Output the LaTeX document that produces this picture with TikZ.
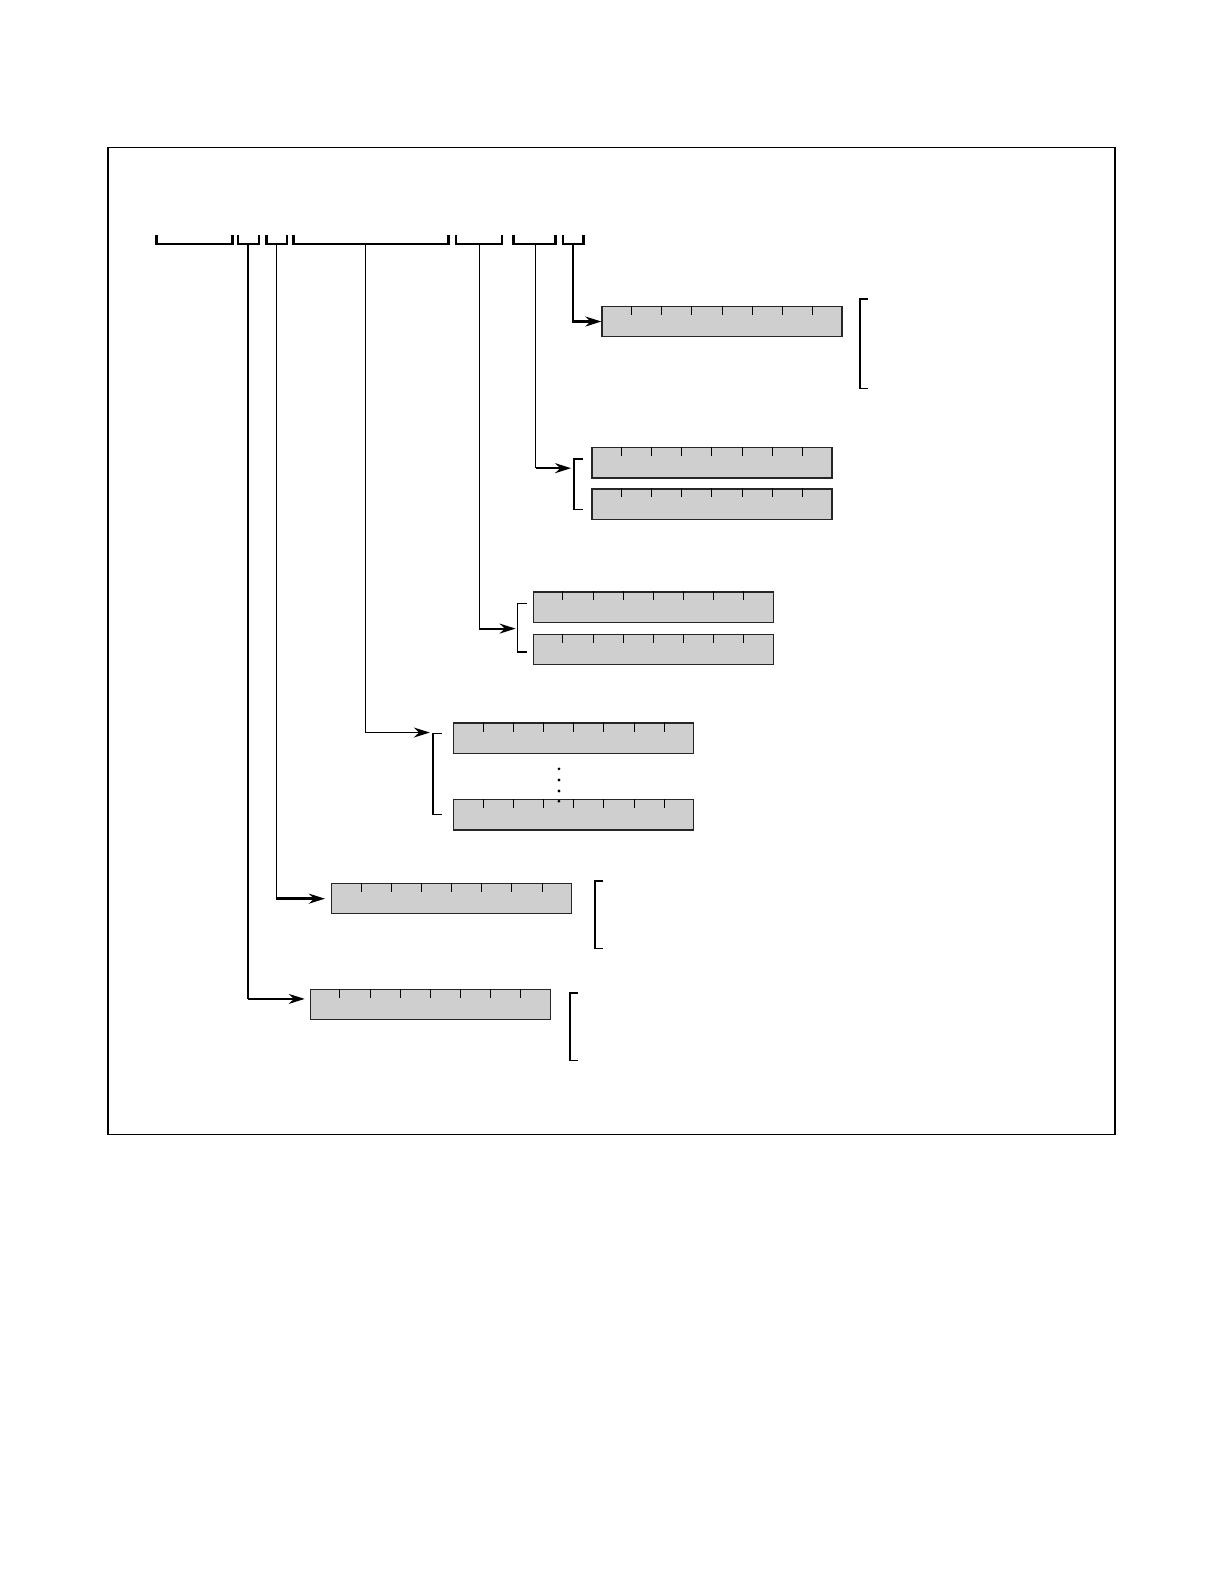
\documentclass[tikz,border=0pt]{standalone}
\usetikzlibrary{arrows.meta,calc}

\begin{document}
\begin{tikzpicture}
[
    x=1.009bp, y=-1.009bp,
    frame/.style={draw=black, line width=1.2pt},
    regbox/.style={draw=black!85, line width=1.3pt, fill=black!19,
        minimum width=240bp, minimum height=30.3bp, inner sep=0pt, anchor=north west},
    tickmark/.style={line width=1pt},
    field/.style={minimum height=9bp, inner sep=0pt, anchor=south west},
    fieldline/.style={line width=2.4pt},
    link/.style={line width=1.4pt, -{Stealth[length=16bp,width=10bp]}},
    biglink/.style={line width=2.4pt, -{Stealth[length=16bp,width=10bp]}},
    brace/.style={line width=1.4pt},
]
\useasboundingbox (0,0) rectangle (1213.1,1567.9);
\draw[frame] (107,146) rectangle (1105,1124);

% fields along the top
\node [field, minimum width=75.7bp] (f1) at (155,242) {};
\node [field, minimum width=20.2bp] (f2) at (236,242) {};
\node [field, minimum width=20.2bp] (f3) at (264,242) {};
\node [field, minimum width=154.4bp] (f4) at (291,242) {};
\node [field, minimum width=45.4bp] (f5) at (452,242) {};
\node [field, minimum width=41.4bp] (f6) at (509,242) {};
\node [field, minimum width=20.2bp] (f7) at (558,242) {};
\foreach \f in {f1,f2,f3,f4,f5,f6,f7}
    \draw [fieldline] (\f.north west) |- (\f.south east) -- (\f.north east);

\coordinate (s2) at (246,242);
\coordinate (s3) at (274,242);
\coordinate (s4) at (362,242);
\coordinate (s5) at (475,242);
\coordinate (s6) at (531,242);
\coordinate (s7) at (568,242);

% registers
\node [regbox] (r7) at (596,303) {};
\node [regbox] (r6a) at (586,443) {};
\node [regbox] (r6b) at (586,484) {};
\node [regbox] (r5a) at (528,586) {};
\node [regbox] (r5b) at (528,628) {};
\node [regbox] (r4a) at (449,716) {};
\node [regbox] (r4b) at (449,792) {};
\node [regbox] (r3) at (328,875) {};
\node [regbox] (r2) at (307,980) {};
\foreach \b in {r7,r6a,r6b,r5a,r5b,r4a,r4b,r3,r2}
    \foreach \i in {1,...,7}
        \draw [tickmark] ($(\b.north west)!\i/8!(\b.north east)$) -- ++(0,9);

% dots between the two r4 registers
\foreach \y in {762,773,784,794}
    \fill (554,\y) circle (1.6bp);

% connectors
\draw [biglink] (s7) |- (r7.west);
\draw [line width=1.4pt] (s6) -- (s6 |- 0,464);
\draw [biglink] (s6 |- 0,464) -- (566,464);
\draw [line width=1.4pt] (s5) -- (s5 |- 0,623);
\draw [line width=1.9pt, -{Stealth[length=16bp,width=10bp]}] (s5 |- 0,623) -- (511,623);
\draw [link] (s4) |- (426,726);
\draw [line width=1.4pt] (s3) -- (s3 |- r3.west);
\draw [biglink] (s3 |- r3.west) -- ($(r3.west)+(-6,0)$);
\draw [line width=2.4pt] (s2) -- (s2 |- 0,990);
\draw [link] (s2 |- 0,990) -- (302,990);

% brackets
\draw [brace, line width=1.8pt] (860,296) -- (852,296) -- (852,385) -- (860,385);
\draw [brace] (578,455) -- (569,455) -- (569,505) -- (578,505);
\draw [brace] (522,598) -- (513,598) -- (513,646) -- (522,646);
\draw [brace] (438,727) -- (429,727) -- (429,807) -- (438,807);
\draw [brace, line width=1.8pt] (598,873) -- (590,873) -- (590,940) -- (598,940);
\draw [brace] (573,984) -- (565,984) -- (565,1051) -- (573,1051);
\end{tikzpicture}
\end{document}
